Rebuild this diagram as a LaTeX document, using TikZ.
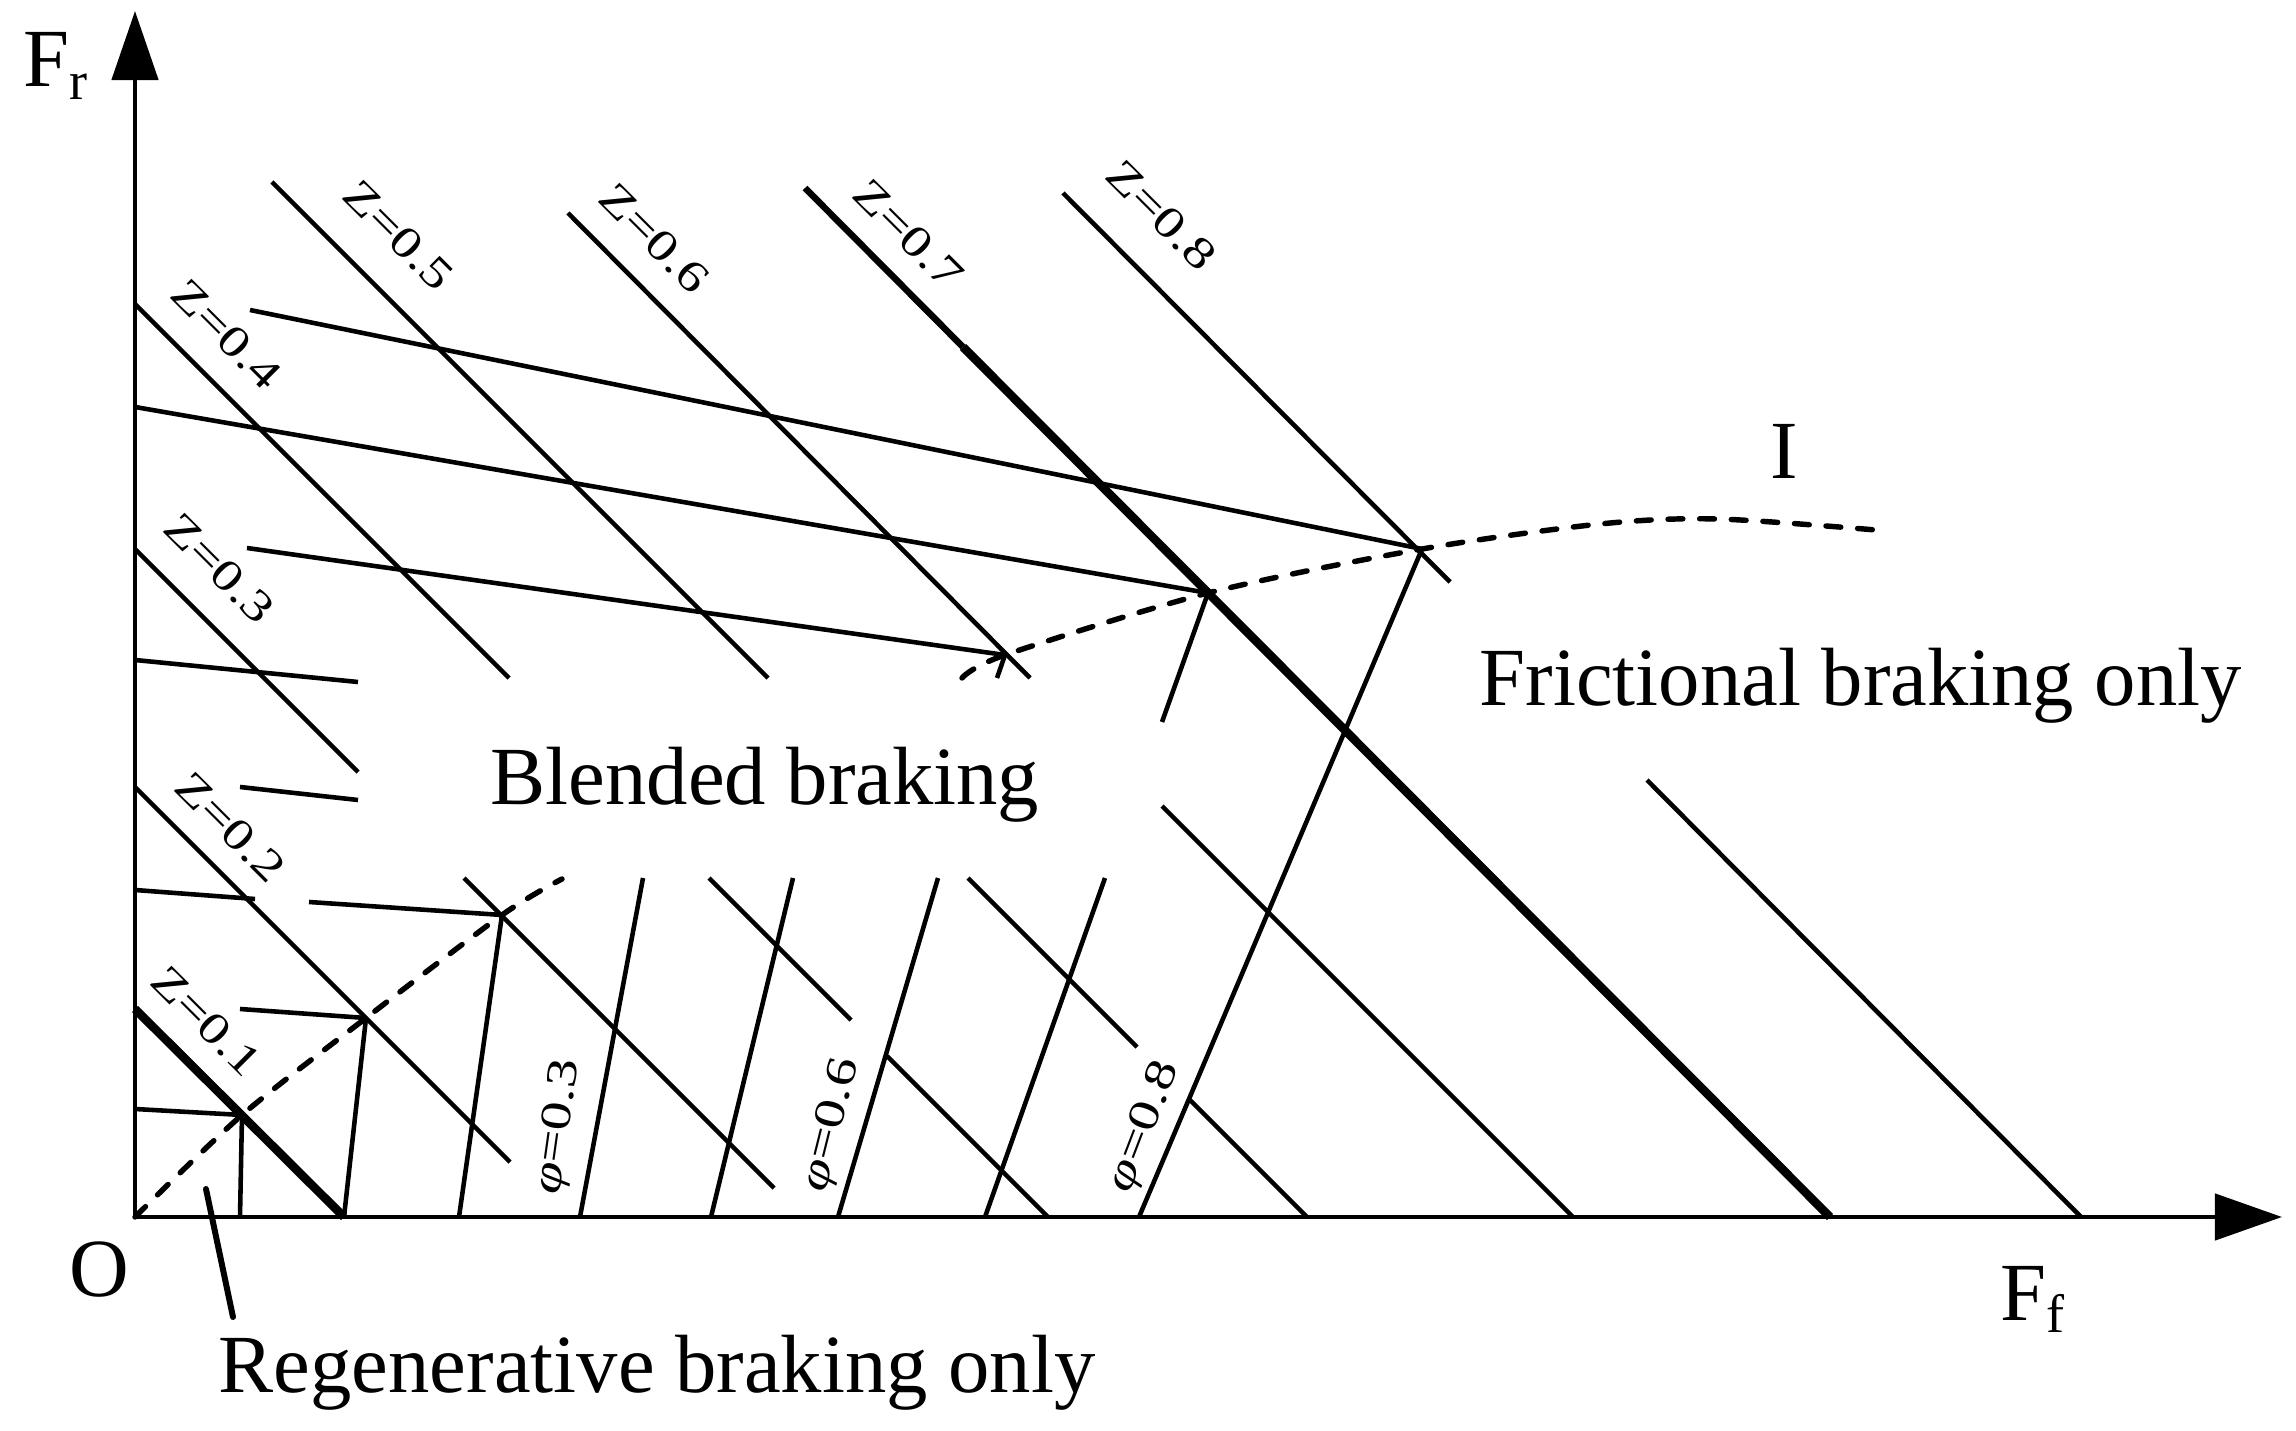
\documentclass[tikz,border=0pt]{standalone}
\usepackage{fontspec}
\setmainfont{Liberation Serif}
\newfontfamily\zfont[FakeStretch=1.27]{Liberation Serif}
\newfontfamily\pfont[FakeStretch=1.33]{Liberation Serif}
\usetikzlibrary{arrows.meta}
\begin{document}
\begin{tikzpicture}[x=0.01cm,y=-0.01cm,
  ln/.style={line width=1.3pt},
  thk/.style={line width=2.45pt},
  icurve/.style={line width=1.55pt, dash pattern=on 4.2pt off 4.8pt, line cap=round},
  big/.style={font=\fontsize{23.5pt}{28pt}\selectfont, inner sep=0pt},
  zlab/.style={font=\zfont\fontsize{12.5pt}{14pt}\selectfont, inner sep=0pt, rotate=-45},
  plab/.style={font=\pfont\fontsize{12.3pt}{14pt}\selectfont, inner sep=0pt},
]
\useasboundingbox (0,0) rectangle (2296,1431);

% axes
\coordinate (O) at (135,1217);
\coordinate (Ytip) at (135,11);
\coordinate (Xtip) at (2282,1217);
\draw[ln, {Triangle[length=0.69cm,width=0.46cm]}-{Triangle[length=0.67cm,width=0.46cm]}] (Ytip) -- (O) -- (Xtip);

% points on the I curve
\coordinate (I1) at (242,1115);
\coordinate (I2) at (366,1018);
\coordinate (I3) at (502,915);
\coordinate (I6) at (1005,655);
\coordinate (I7) at (1208,593);
\coordinate (I8) at (1422,549);

% Z lines
\draw[thk] (135,1009) -- (344,1217);                 % Z=0.1
\draw[ln] (135,787) -- (510,1162);                   % Z=0.2
\draw[ln] (135,549) -- (358,772);                    % Z=0.3
\draw[ln] (464,878) -- (774,1188);
\draw[ln] (135,304) -- (509,678);                    % Z=0.4
\draw[ln] (709,878) -- (851,1020);
\draw[ln] (887,1056) -- (1048,1217);
\draw[ln] (272,182) -- (768,678);                    % Z=0.5
\draw[ln] (968,878) -- (1137,1047);
\draw[ln] (1188,1098) -- (1307,1217);
\draw[ln] (568,213) -- (1030,678);                   % Z=0.6
\draw[ln] (1162,806) -- (1573,1217);
\draw[line width=1.85pt] (805,188) -- (963,347);     % Z=0.7
\draw[thk] (963,347) -- (1830,1217);
\draw[ln] (1063,193) -- (1450,582);                  % Z=0.8
\draw[ln] (1647,780) -- (2081,1217);

% f lines (from the Ff axis)
\draw[ln] (240,1217) -- (I1);
\draw[ln] (344,1217) -- (I2);
\draw[ln] (459,1217) -- (I3);
\draw[ln] (580,1217) -- (643,878);
\draw[ln] (711,1217) -- (793,878);
\draw[ln] (838,1217) -- (938,878);
\draw[ln] (997,678) -- (I6);
\draw[ln] (985,1217) -- (1105,878);
\draw[ln] (1162,722) -- (I7);
\draw[ln] (1139,1217) -- (I8);

% r lines (from the Fr axis)
\draw[ln] (250,310) -- (I8);
\draw[ln] (135,407) -- (I7);
\draw[ln] (247,548) -- (I6);
\draw[ln] (135,660) -- (358,682);
\draw[ln] (240,787) -- (358,800);
\draw[ln] (135,890) -- (255,899);
\draw[ln] (309,902) -- (I3);
\draw[ln] (240,1009) -- (I2);
\draw[ln] (135,1109) -- (I1);

% I curve
\draw[icurve] plot[smooth] coordinates {(135,1217) (242,1115) (366,1018) (502,915) (562,879)};
\draw[icurve] plot[smooth] coordinates {(962,678) (1005,655) (1208,593) (1422,549) (1600,524) (1718,519) (1888,531)};

% Z labels
\node[zlab] (z1) at (206,1021) {Z=0.1};
\node[zlab] (z2) at (230,827) {Z=0.2};
\node[zlab] (z3) at (219,568) {Z=0.3};
\node[zlab] (z4) at (226,334) {Z=0.4};
\node[zlab] (z5) at (398,235) {Z=0.5};
\node[zlab] (z6) at (654,238) {Z=0.6};
\node[zlab] (z7) at (908,234) {Z=0.7};
\node[zlab] (z8) at (1161,215) {Z=0.8};

% phi labels
\node[plab, rotate=82] (p3) at (559,1127) {\itshape φ\upshape=0.3};
\node[plab, rotate=76] (p6) at (832,1125) {\itshape φ\upshape=0.6};
\node[plab, rotate=69] (p8) at (1145,1127) {\itshape φ\upshape=0.8};

% text labels
\node[big, anchor=base west] (Fr) at (23,87) {F\raisebox{-3.7pt}{\fontsize{15.4pt}{18pt}\selectfont r}};
\node[big, anchor=base] (Olab) at (99,1296) {O};
\node[big, anchor=base west] (Ff) at (2000,1320) {F\raisebox{-3.5pt}{\fontsize{15.4pt}{18pt}\selectfont f}};
\node[big, anchor=base] (Ilab) at (1784,479) {I};
\node[big, anchor=base west] (fric) at (1479,706) {Frictional braking only};
\node[big, anchor=base west] (blend) at (490,805) {Blended braking};
\node[big, anchor=base west] (regen) at (218,1392) {Regenerative braking only};
\coordinate (rp1) at (206,1189);
\coordinate (rp2) at (233,1317);
\draw[line width=1.7pt, line cap=round] (rp1) -- (rp2);
\end{tikzpicture}
\end{document}
